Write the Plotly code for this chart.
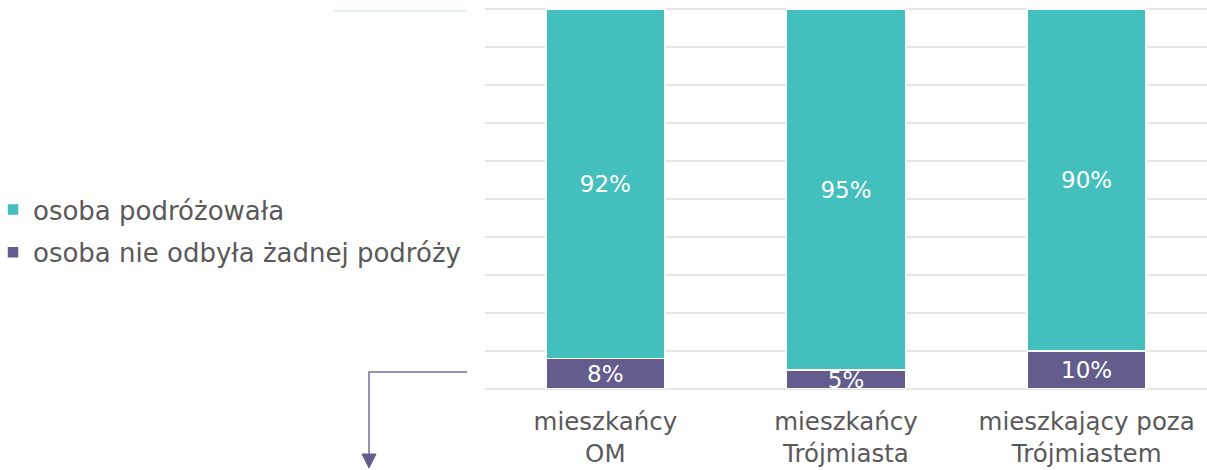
import plotly.graph_objects as go

categories = ["mieszkańcy<br>OM", "mieszkańcy<br>Trójmiasta", "mieszkający poza<br>Trójmiastem"]
traveled = [92, 95, 90]
not_traveled = [8, 5, 10]
series_names = ["osoba podróżowała", "osoba nie odbyła żadnej podróży"]

TEAL = "#43bfbd"
PURPLE = "#635c8c"
GREY = "#595959"
FONT = "DejaVu Sans"

W, H = 1207, 470
L, R, T, B = 485, 0, 8, 81
pw = W - L - R
ph = H - T - B


def px(x):
    return (x - L) / pw


def py(y):
    return (H - B - y) / ph


fig = go.Figure()
fig.add_trace(go.Bar(
    x=categories, y=not_traveled, name=series_names[1],
    marker=dict(color=PURPLE, line=dict(color="white", width=1.5)),
    text=[f"{v}%" for v in not_traveled], textposition="inside",
    insidetextanchor="middle", constraintext="none", cliponaxis=True,
    textfont=dict(color="white", size=23, family=FONT),
    legendgroup="b", legendrank=2,
))
fig.add_trace(go.Bar(
    x=categories, y=traveled, name=series_names[0],
    marker=dict(color=TEAL, line=dict(color="white", width=1.5)),
    text=[f"{v}%" for v in traveled], textposition="inside",
    insidetextanchor="middle", constraintext="none", cliponaxis=True,
    textfont=dict(color="white", size=23, family=FONT),
    legendgroup="a", legendrank=1,
))

fig.update_layout(
    width=W, height=H, autosize=False,
    margin=dict(l=L, r=R, t=T, b=B, pad=0, autoexpand=False),
    barmode="stack", bargap=0.505,
    plot_bgcolor="white", paper_bgcolor="white",
    font=dict(family=FONT, color=GREY, size=24),
    showlegend=True,
    legend=dict(
        x=px(-7), y=py(186), xanchor="left", yanchor="top",
        traceorder="grouped", tracegroupgap=6,
        font=dict(size=26, color=GREY, family=FONT),
        itemwidth=30, bgcolor="rgba(0,0,0,0)",
    ),
    xaxis=dict(
        showgrid=False, showline=False, ticks="outside", ticklen=11,
        tickcolor="rgba(0,0,0,0)", tickfont=dict(size=24.5, color=GREY, family=FONT),
    ),
    yaxis=dict(
        range=[0, 100.3], dtick=10, showgrid=True, gridcolor="#e6e6e6", gridwidth=1.5,
        zeroline=True, zerolinecolor="#e6e6e6", zerolinewidth=1.5,
        showticklabels=False, showline=False,
    ),
    shapes=[
        dict(type="line", xref="paper", yref="paper",
             x0=px(333), x1=px(467), y0=py(11), y1=py(11),
             line=dict(color="#d8eeee", width=1.5)),
        dict(type="path", xref="paper", yref="paper",
             path=f"M {px(467)} {py(372)} L {px(369)} {py(372)} L {px(369)} {py(457)}",
             line=dict(color="#7470a0", width=1.5)),
        dict(type="path", xref="paper", yref="paper",
             path=f"M {px(362)} {py(454)} L {px(376)} {py(454)} L {px(369)} {py(468)} Z",
             fillcolor=PURPLE, line=dict(color=PURPLE, width=1)),
    ],
)

post = (
    "document.documentElement.style.margin='0';"
    "document.body.style.margin='0';document.body.style.padding='0';"
    "document.body.style.overflow='hidden';"
)
fig.write_html("out.html", config={"displayModeBar": False, "responsive": False},
               post_script=post)
